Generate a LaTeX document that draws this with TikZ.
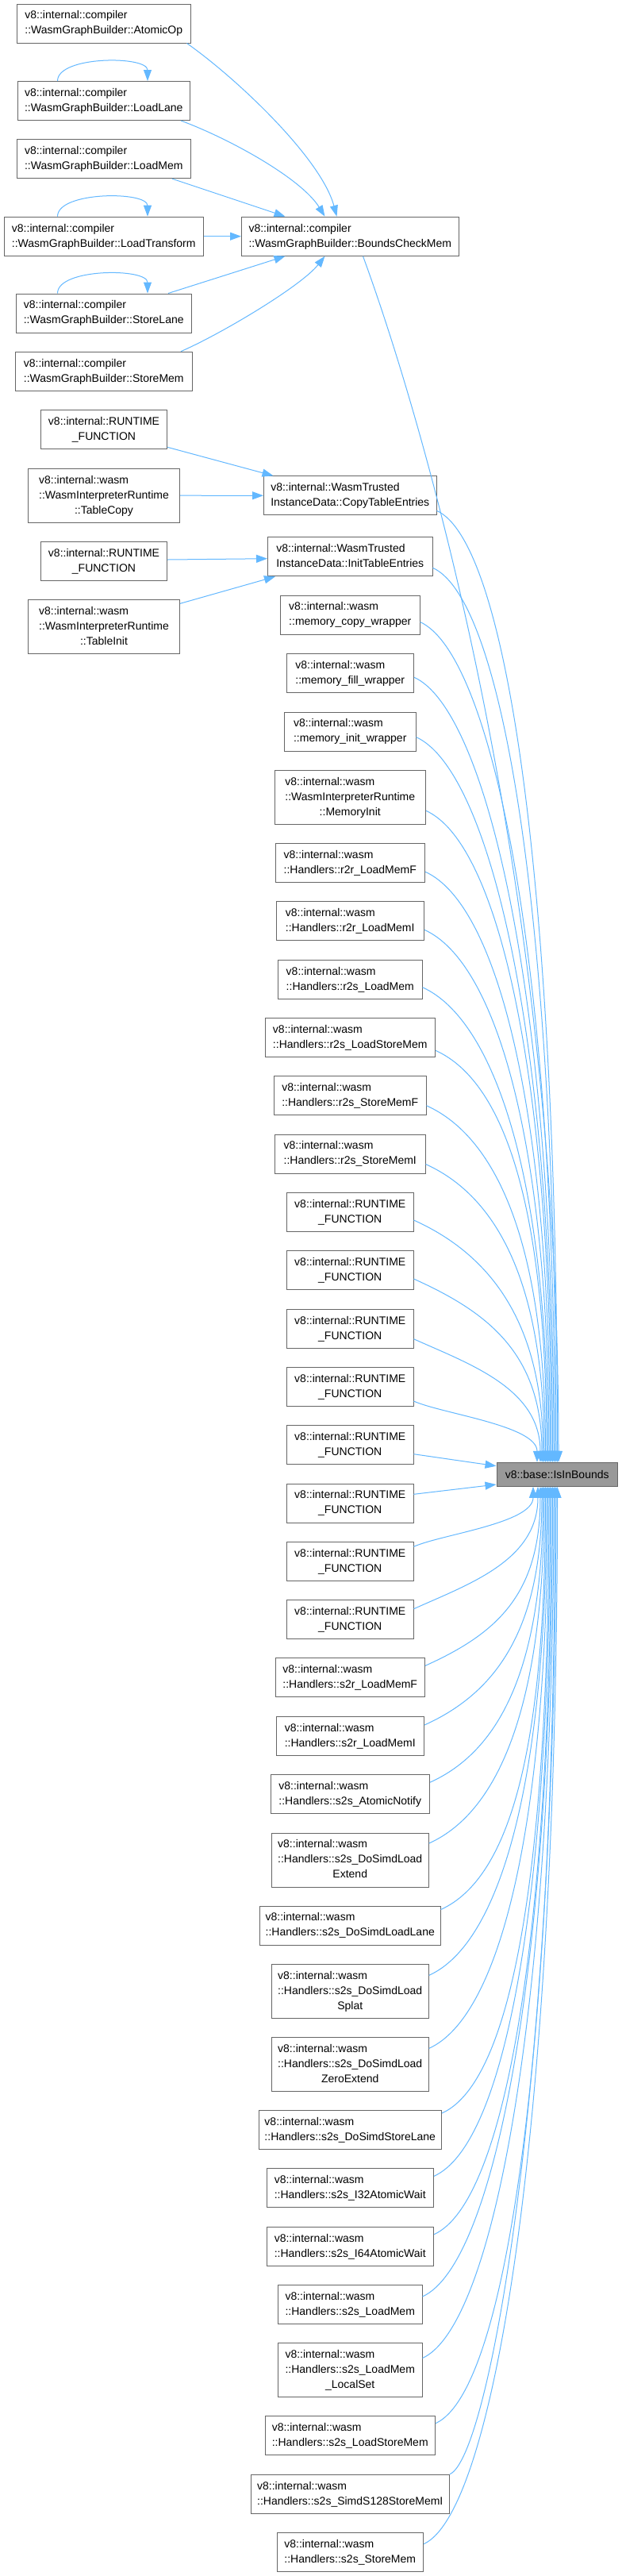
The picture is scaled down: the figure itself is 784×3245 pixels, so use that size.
\documentclass[tikz,border=0pt]{standalone}
\usepackage{fontspec}
\setmainfont{Liberation Sans}
\usetikzlibrary{arrows.meta,calc}
\definecolor{edgeblue}{HTML}{63B8FF}
\definecolor{boxline}{HTML}{666666}
\definecolor{hlfill}{HTML}{999999}
\newcommand\lbltwo[2]{\begin{tabular}{@{}c@{}}\multicolumn{1}{@{}l@{}}{#1}\\#2\end{tabular}}
\newcommand\lblthree[3]{\begin{tabular}{@{}c@{}}\multicolumn{1}{@{}l@{}}{#1}\\\multicolumn{1}{@{}l@{}}{#2}\\#3\end{tabular}}
\newcommand\upedge[5]{\draw[conn] ($(#1.east)+(0,#2)$) .. controls +(#4,0.45*#4) and ($(isin.north)+(#3,-#5)$) .. ($(isin.north)+(#3,0)$);}
\newcommand\dnedge[5]{\draw[conn] ($(#1.east)+(0,#2)$) .. controls +(#4,-0.45*#4) and ($(isin.south)+(#3,#5)$) .. ($(isin.south)+(#3,0)$);}
\tikzset{
  box/.style={draw=boxline, fill=white, line width=1pt, inner xsep=5pt, inner ysep=0pt,
    minimum height=49pt, font=\fontsize{14}{19}\selectfont},
  boxthree/.style={box, minimum height=68pt},
  conn/.style={draw=edgeblue, line width=1pt, -{Triangle[length=14pt,width=10pt]}},
  loop/.style={conn}
}
\begin{document}
\begin{tikzpicture}[x=1pt,y=-1pt]
\useasboundingbox (0,0) rectangle (784,3245);
\fill[white] (0,0) rectangle (784,3245);

% left column
\node[box, minimum width=218.5pt] (atomicop) at (130.75,29.5) {\lbltwo{v8::internal::compiler}{::WasmGraphBuilder::AtomicOp}};
\node[box, minimum width=217.5pt] (loadlane) at (130.75,127) {\lbltwo{v8::internal::compiler}{::WasmGraphBuilder::LoadLane}};
\node[box, minimum width=219.5pt] (loadmem) at (130.75,200.2) {\lbltwo{v8::internal::compiler}{::WasmGraphBuilder::LoadMem}};
\node[box, minimum width=251.5pt] (loadtransform) at (130.75,297.7) {\lbltwo{v8::internal::compiler}{::WasmGraphBuilder::LoadTransform}};
\node[box, minimum width=220.5pt] (storelane) at (130.75,394.5) {\lbltwo{v8::internal::compiler}{::WasmGraphBuilder::StoreLane}};
\node[box, minimum width=222.5pt] (storemem) at (130.75,467.7) {\lbltwo{v8::internal::compiler}{::WasmGraphBuilder::StoreMem}};
\node[box, minimum width=159pt] (rt1) at (131,541.3) {\lbltwo{v8::internal::RUNTIME}{\_FUNCTION}};
\node[boxthree, minimum width=191pt] (tablecopy) at (131,624.2) {\lblthree{v8::internal::wasm}{::WasmInterpreterRuntime}{::TableCopy}};
\node[box, minimum width=159pt] (rt2) at (131,707) {\lbltwo{v8::internal::RUNTIME}{\_FUNCTION}};
\node[boxthree, minimum width=191pt] (tableinit) at (131,789.5) {\lblthree{v8::internal::wasm}{::WasmInterpreterRuntime}{::TableInit}};

% middle column
\node[box, minimum width=273.5pt] (boundscheck) at (441.25,297.7) {\lbltwo{v8::internal::compiler}{::WasmGraphBuilder::BoundsCheckMem}};
\node[box, minimum width=217.5pt] (copytable) at (441.25,624.3) {\lbltwo{v8::internal::WasmTrusted}{InstanceData::CopyTableEntries}};
\node[box, minimum width=207.5pt] (inittable) at (441.25,701.3) {\lbltwo{v8::internal::WasmTrusted}{InstanceData::InitTableEntries}};
\node[box, minimum width=175.5pt] (memcopy) at (441.25,774.5) {\lbltwo{v8::internal::wasm}{::memory\_copy\_wrapper}};
\node[box, minimum width=160.5pt] (memfill) at (441.25,848.2) {\lbltwo{v8::internal::wasm}{::memory\_fill\_wrapper}};
\node[box, minimum width=165.5pt] (meminit) at (441.25,921.5) {\lbltwo{v8::internal::wasm}{::memory\_init\_wrapper}};
\node[boxthree, minimum width=190.5pt] (memoryinit) at (441.25,1004.3) {\lblthree{v8::internal::wasm}{::WasmInterpreterRuntime}{::MemoryInit}};
\node[box, minimum width=188.5pt] (r2rF) at (441.25,1087.2) {\lbltwo{v8::internal::wasm}{::Handlers::r2r\_LoadMemF}};
\node[box, minimum width=186.5pt] (r2rI) at (441.25,1160.3) {\lbltwo{v8::internal::wasm}{::Handlers::r2r\_LoadMemI}};
\node[box, minimum width=181.5pt] (r2sLoad) at (441.25,1233.7) {\lbltwo{v8::internal::wasm}{::Handlers::r2s\_LoadMem}};
\node[box, minimum width=214.5pt] (r2sLS) at (441.25,1306.8) {\lbltwo{v8::internal::wasm}{::Handlers::r2s\_LoadStoreMem}};
\node[box, minimum width=191.5pt] (r2sSF) at (441.25,1380) {\lbltwo{v8::internal::wasm}{::Handlers::r2s\_StoreMemF}};
\node[box, minimum width=189.5pt] (r2sSI) at (441.25,1453.5) {\lbltwo{v8::internal::wasm}{::Handlers::r2s\_StoreMemI}};
\node[box, minimum width=159.5pt] (rt3) at (441.25,1527) {\lbltwo{v8::internal::RUNTIME}{\_FUNCTION}};
\node[box, minimum width=159.5pt] (rt4) at (441.25,1600) {\lbltwo{v8::internal::RUNTIME}{\_FUNCTION}};
\node[box, minimum width=159.5pt] (rt5) at (441.25,1673.7) {\lbltwo{v8::internal::RUNTIME}{\_FUNCTION}};
\node[box, minimum width=159.5pt] (rt6) at (441.25,1747) {\lbltwo{v8::internal::RUNTIME}{\_FUNCTION}};
\node[box, minimum width=159.5pt] (rt7) at (441.25,1820) {\lbltwo{v8::internal::RUNTIME}{\_FUNCTION}};
\node[box, minimum width=159.5pt] (rt8) at (441.25,1893.5) {\lbltwo{v8::internal::RUNTIME}{\_FUNCTION}};
\node[box, minimum width=159.5pt] (rt9) at (441.25,1966.8) {\lbltwo{v8::internal::RUNTIME}{\_FUNCTION}};
\node[box, minimum width=159.5pt] (rt10) at (441.25,2040.2) {\lbltwo{v8::internal::RUNTIME}{\_FUNCTION}};
\node[box, minimum width=188.5pt] (s2rF) at (441.25,2113.3) {\lbltwo{v8::internal::wasm}{::Handlers::s2r\_LoadMemF}};
\node[box, minimum width=186.5pt] (s2rI) at (441.25,2187) {\lbltwo{v8::internal::wasm}{::Handlers::s2r\_LoadMemI}};
\node[box, minimum width=200.5pt] (atomicnotify) at (441.25,2260.2) {\lbltwo{v8::internal::wasm}{::Handlers::s2s\_AtomicNotify}};
\node[boxthree, minimum width=198pt] (simdext) at (441.25,2343) {\lblthree{v8::internal::wasm}{::Handlers::s2s\_DoSimdLoad}{Extend}};
\node[box, minimum width=227.5pt] (simdlane) at (441.25,2425.5) {\lbltwo{v8::internal::wasm}{::Handlers::s2s\_DoSimdLoadLane}};
\node[boxthree, minimum width=198pt] (simdsplat) at (441.25,2508.3) {\lblthree{v8::internal::wasm}{::Handlers::s2s\_DoSimdLoad}{Splat}};
\node[boxthree, minimum width=198pt] (simdzero) at (441.25,2600.3) {\lblthree{v8::internal::wasm}{::Handlers::s2s\_DoSimdLoad}{ZeroExtend}};
\node[box, minimum width=230.5pt] (simdstore) at (441.25,2683) {\lbltwo{v8::internal::wasm}{::Handlers::s2s\_DoSimdStoreLane}};
\node[box, minimum width=210.5pt] (i32) at (441.25,2756.3) {\lbltwo{v8::internal::wasm}{::Handlers::s2s\_I32AtomicWait}};
\node[box, minimum width=210.5pt] (i64) at (441.25,2829.7) {\lbltwo{v8::internal::wasm}{::Handlers::s2s\_I64AtomicWait}};
\node[box, minimum width=181.5pt] (s2sLoad) at (441.25,2903) {\lbltwo{v8::internal::wasm}{::Handlers::s2s\_LoadMem}};
\node[boxthree, minimum width=181.5pt] (localset) at (441.25,2985.5) {\lblthree{v8::internal::wasm}{::Handlers::s2s\_LoadMem}{\_LocalSet}};
\node[box, minimum width=214.5pt] (s2sLS) at (441.25,3068.3) {\lbltwo{v8::internal::wasm}{::Handlers::s2s\_LoadStoreMem}};
\node[box, minimum width=250.5pt] (simdS128) at (441.25,3141.7) {\lbltwo{v8::internal::wasm}{::Handlers::s2s\_SimdS128StoreMemI}};
\node[box, minimum width=184.5pt] (s2sStore) at (441.25,3214.7) {\lbltwo{v8::internal::wasm}{::Handlers::s2s\_StoreMem}};

% target
\node[box, fill=hlfill, minimum width=152.5pt, minimum height=30pt] (isin) at (702.25,1857.3) {v8::base::IsInBounds};

% self loops
\foreach \n in {loadlane,loadtransform,storelane}{
  \draw[loop] ($(\n.north)+(-58.25,0)$) .. controls +(0,-32) and +(0,-32) .. ($(\n.north)+(55.25,0)$);
}

% into BoundsCheckMem
\draw[conn] ($(atomicop.south east)+(-5,0)$) .. controls (300,100) and (405,200) .. ($(boundscheck.north west)+(120.5,0)$);
\draw[conn] ($(loadlane.south east)+(-12,0)$) .. controls (290,175) and (380,225) .. ($(boundscheck.north west)+(105.5,0)$);
\draw[conn] ($(loadmem.south east)+(-24,0)$) -- ($(boundscheck.north west)+(55.5,0)$);
\draw[conn] (loadtransform) -- (boundscheck);
\draw[conn] ($(storelane.north east)+(-29.5,0)$) -- ($(boundscheck.south west)+(55.5,0)$);
\draw[conn] ($(storemem.north east)+(-14.5,0)$) .. controls (280,420) and (380,360) .. ($(boundscheck.south west)+(105.5,0)$);

% into table entries
\draw[conn] ($(rt1.east)+(0,22)$) -- ($(copytable.north west)+(12.5,0)$);
\draw[conn] (tablecopy) -- (copytable);
\draw[conn] ($(rt2.east)+(0,-2)$) -- ($(inittable.west)+(0,2.4)$);
\draw[conn] ($(tableinit.north east)+(0,5.3)$) -- ($(inittable.south west)+(10,0)$);

% into IsInBounds from above
\draw[conn] ($(boundscheck.south)+(16.25,0)$) .. controls (530,520) and (704,1100) .. ($(isin.north)+(1.75,0)$);
\upedge{copytable}{19}{0.25}{90}{719}
\upedge{inittable}{14}{-1.25}{90}{676}
\upedge{memcopy}{9}{-2.75}{90}{635}
\upedge{memfill}{5}{-4.25}{90}{593}
\upedge{meminit}{7}{-5.75}{90}{548}
\upedge{memoryinit}{17}{-7.25}{90}{493}
\upedge{r2rF}{11}{-8.75}{90}{446}
\upedge{r2rI}{11}{-10.25}{90}{403}
\upedge{r2sLoad}{10}{-11.75}{90}{359}
\upedge{r2sLS}{16.5}{-13.25}{90}{311}
\upedge{r2sSF}{12.7}{-14.75}{90}{270}
\upedge{r2sSI}{13}{-16.25}{90}{225}
\upedge{rt3}{10}{-17.75}{90}{183}
\upedge{rt4}{11}{-19.25}{90}{139}
\upedge{rt5}{13}{-21.25}{70}{93}
\upedge{rt6}{18}{-25.25}{35}{46}

% side
\draw[conn] ($(rt7.east)+(0,11.7)$) -- ($(isin.west)+(0,-10.6)$);
\draw[conn] ($(rt8.east)+(0,-11.2)$) -- ($(isin.west)+(0,12.7)$);

% into IsInBounds from below
\dnedge{rt9}{-18.5}{-30.25}{34}{46}
\dnedge{rt10}{-13.5}{-24.25}{70}{93}
\dnedge{s2rF}{-15}{-21.25}{90}{136}
\dnedge{s2rI}{-14}{-19.25}{90}{180}
\dnedge{atomicnotify}{-15}{-17.75}{90}{224}
\dnedge{simdext}{-21}{-16.25}{90}{270}
\dnedge{simdlane}{-20}{-14.75}{90}{320}
\dnedge{simdsplat}{-20}{-13.25}{90}{370}
\dnedge{simdzero}{-20}{-11.75}{90}{425}
\dnedge{simdstore}{-21}{-10.25}{90}{474}
\dnedge{i32}{-15}{-8.75}{90}{521}
\dnedge{i64}{-15}{-7.25}{90}{565}
\dnedge{s2sLoad}{-10}{-5.75}{90}{612}
\dnedge{localset}{-15}{-4.25}{90}{659}
\dnedge{s2sLS}{-15.6}{-2.75}{90}{708}
\draw[conn] (simdS128.north east) .. controls +(50,-22) and ($(isin.south)+(-1.25,747)$) .. ($(isin.south)+(-1.25,0)$);
\dnedge{s2sStore}{-10}{0.25}{90}{799}
\end{tikzpicture}
\end{document}
